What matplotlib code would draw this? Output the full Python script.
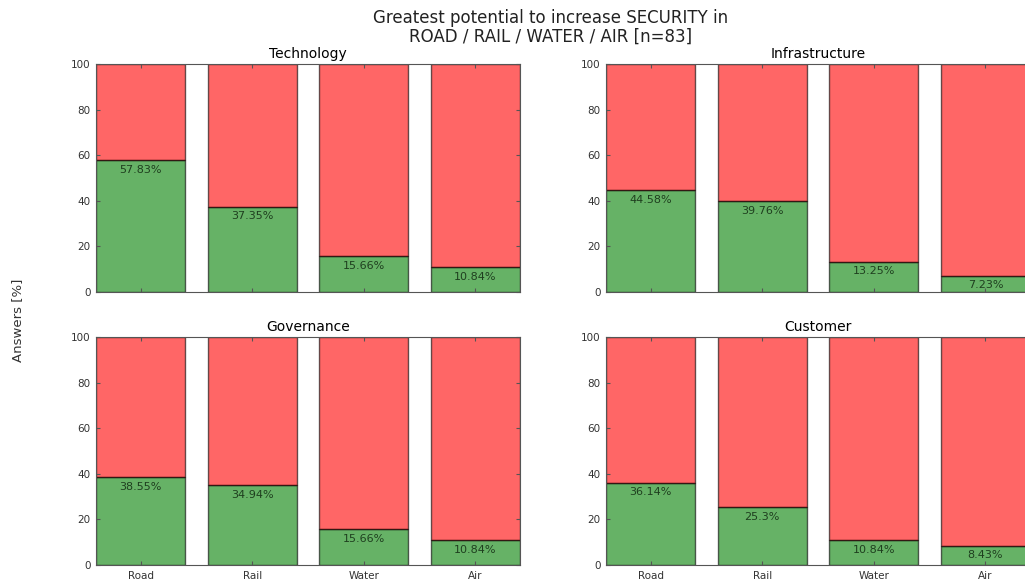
import numpy as np
import matplotlib
matplotlib.use("Agg")
import matplotlib.pyplot as plt

modes = ["Road", "Rail", "Water", "Air"]
panels = ["Technology", "Infrastructure", "Governance", "Customer"]

# share of "yes" answers per mode [%], n=83
technology = [57.83, 37.35, 15.66, 10.84]
infrastructure = [44.58, 39.76, 13.25, 7.23]
governance = [38.55, 34.94, 15.66, 10.84]
customer = [36.14, 25.3, 10.84, 8.43]

values = [technology, infrastructure, governance, customer]

W, H = 1025, 581
fig = plt.figure(figsize=(W / 100, H / 100), dpi=100)

# axes rectangles in pixels: left, top, width, height
boxes = [(96, 64), (606, 64), (96, 337), (606, 337)]
ax_w, ax_h = 424, 228

for i, (name, vals) in enumerate(zip(panels, values)):
    left, top = boxes[i]
    ax = fig.add_axes([left / W, 1 - (top + ax_h) / H, ax_w / W, ax_h / H])
    x = np.arange(len(modes))
    rest = [100 - v for v in vals]
    ax.bar(x, vals, width=0.8, align="edge", color="g", alpha=0.6,
           edgecolor="k", linewidth=1)
    ax.bar(x, rest, width=0.8, bottom=vals, align="edge", color="r",
           alpha=0.6, edgecolor="k", linewidth=1)
    for xi, v in zip(x, vals):
        ax.text(xi + 0.4, v - 2, str(v) + "%", ha="center", va="top",
                fontsize=8, color="#1f3f1f")
    ax.set_xlim(0, 3.8)
    ax.set_ylim(0, 100)
    ax.set_yticks(range(0, 101, 20))
    ax.set_xticks(x + 0.4)
    if i >= 2:
        ax.set_xticklabels(modes, fontsize=7.5)
    else:
        ax.set_xticklabels([])
    ax.tick_params(axis="y", labelsize=7.5)
    ax.tick_params(direction="in", top=True, right=True, length=3,
                   color="#555555", labelcolor="#333333", pad=4)
    for s in ax.spines.values():
        s.set_color("#555555")
    ax.set_title(name, fontsize=10, pad=4)

fig.text(0.537, 0.953, "Greatest potential to increase SECURITY in\nROAD / RAIL / WATER / AIR [n=83]",
         ha="center", va="center", fontsize=12, linespacing=1.0, color="#222222")
fig.text(0.017, 0.449, "Answers [%]", rotation=90, ha="center", va="center",
         fontsize=9.5, color="#333333")

fig.savefig("out.png", dpi=100)
